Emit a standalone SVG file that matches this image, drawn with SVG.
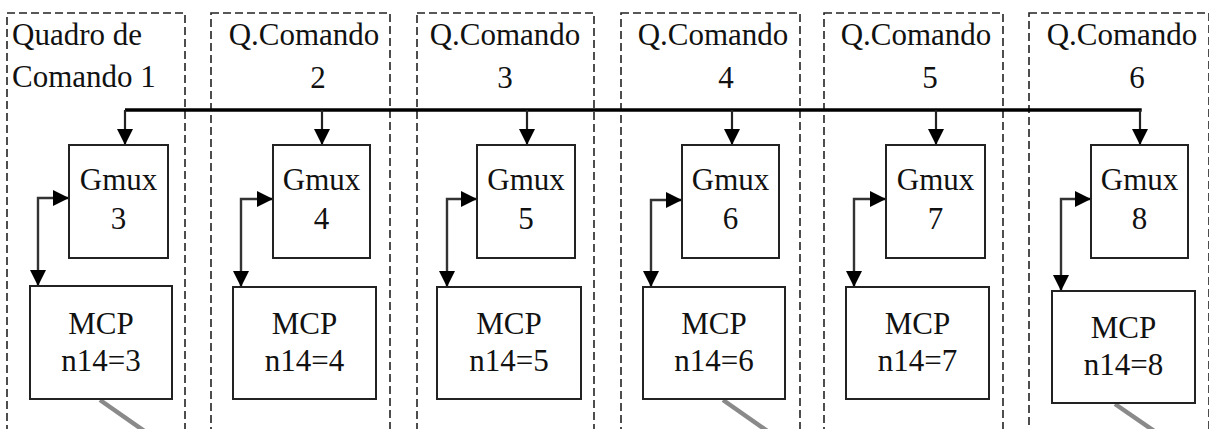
<svg xmlns="http://www.w3.org/2000/svg" width="1209" height="429" viewBox="0 0 1209 429" font-family="Liberation Serif, Tinos, DejaVu Serif, Times New Roman, serif">
<style>
.panel{fill:none;stroke:#222;stroke-width:1.6;stroke-dasharray:8,4}
.box{fill:#fff;stroke:#222;stroke-width:2}
.t{font-size:31px;fill:#111}
.c{text-anchor:middle}
.bus{fill:none;stroke:#000;stroke-width:3.4}
.down{fill:none;stroke:#222;stroke-width:2.2;marker-end:url(#ah)}
.loop{fill:none;stroke:#333;stroke-width:2.4;marker-start:url(#ahs);marker-end:url(#ah)}
.gray{stroke:#8a8a8a;stroke-width:4.5;fill:none}
</style>
<defs>
<marker id="ah" markerUnits="userSpaceOnUse" markerWidth="16" markerHeight="16" refX="16" refY="8" orient="auto"><path d="M0,0 L16,8 L0,16 z" fill="#000"/></marker>
<marker id="ahs" markerUnits="userSpaceOnUse" markerWidth="16" markerHeight="16" refX="0" refY="8" orient="auto"><path d="M16,0 L0,8 L16,16 z" fill="#000"/></marker>
</defs>
<rect width="1209" height="429" fill="#fff"/>
<g id="panels">
<rect class="panel" x="7" y="13" width="178" height="440"/>
<rect class="panel" x="211" y="13" width="179" height="440"/>
<rect class="panel" x="417" y="13" width="177" height="440"/>
<rect class="panel" x="621" y="13" width="179" height="440"/>
<rect class="panel" x="824" y="13" width="179" height="440"/>
<rect class="panel" x="1029" y="13" width="180" height="440"/>
<text class="t" x="12" y="45">Quadro de</text>
<text class="t" x="12" y="87">Comando 1</text>
<text class="t c" x="304" y="45">Q.Comando</text><text class="t c" x="318" y="88">2</text>
<text class="t c" x="505" y="45">Q.Comando</text><text class="t c" x="505" y="88">3</text>
<text class="t c" x="713" y="45">Q.Comando</text><text class="t c" x="726" y="88">4</text>
<text class="t c" x="916" y="45">Q.Comando</text><text class="t c" x="930" y="88">5</text>
<text class="t c" x="1122" y="45">Q.Comando</text><text class="t c" x="1137" y="88">6</text>
</g>
<g id="connectors">
<path class="bus" d="M125,110 H1141.7"/>
<path class="down" d="M125,110 V145"/>
<path class="down" d="M322,110 V145"/>
<path class="down" d="M527,110 V145"/>
<path class="down" d="M732,110 V145"/>
<path class="down" d="M936,110 V145"/>
<path class="down" d="M1140,110 V145"/>
<path class="loop" d="M69,198 H38 V286"/>
<path class="loop" d="M273,199 H241 V287"/>
<path class="loop" d="M477,199 H447 V287"/>
<path class="loop" d="M682,200 H651 V287"/>
<path class="loop" d="M886,199 H854 V287"/>
<path class="loop" d="M1091,199 H1061 V291"/>
<path class="gray" d="M100,400 L150,435"/>
<path class="gray" d="M723,400 L773,435"/>
<path class="gray" d="M1115,404 L1160,435"/>
</g>
<g id="gmux3"><rect class="box" x="69" y="145" width="99" height="113"/><text class="t c" x="118.5" y="190">Gmux</text><text class="t c" x="118.5" y="229">3</text></g>
<g id="gmux4"><rect class="box" x="273" y="145" width="97" height="113"/><text class="t c" x="321.5" y="190">Gmux</text><text class="t c" x="321.5" y="229">4</text></g>
<g id="gmux5"><rect class="box" x="477" y="145" width="98" height="113"/><text class="t c" x="526" y="190">Gmux</text><text class="t c" x="526" y="229">5</text></g>
<g id="gmux6"><rect class="box" x="682" y="145" width="97" height="113"/><text class="t c" x="730.5" y="190">Gmux</text><text class="t c" x="730.5" y="229">6</text></g>
<g id="gmux7"><rect class="box" x="886" y="145" width="99" height="113"/><text class="t c" x="935.5" y="190">Gmux</text><text class="t c" x="935.5" y="229">7</text></g>
<g id="gmux8"><rect class="box" x="1091" y="145" width="97" height="113"/><text class="t c" x="1139.5" y="190">Gmux</text><text class="t c" x="1139.5" y="229">8</text></g>
<g id="mcp3"><rect class="box" x="30" y="286" width="142" height="113"/><text class="t c" x="101" y="334">MCP</text><text class="t c" x="101" y="371">n14=3</text></g>
<g id="mcp4"><rect class="box" x="233" y="287" width="143" height="112"/><text class="t c" x="304.5" y="334">MCP</text><text class="t c" x="304.5" y="371">n14=4</text></g>
<g id="mcp5"><rect class="box" x="437" y="287" width="144" height="112"/><text class="t c" x="509" y="334">MCP</text><text class="t c" x="509" y="371">n14=5</text></g>
<g id="mcp6"><rect class="box" x="643" y="287" width="142" height="112"/><text class="t c" x="714" y="334">MCP</text><text class="t c" x="714" y="371">n14=6</text></g>
<g id="mcp7"><rect class="box" x="846" y="287" width="143" height="112"/><text class="t c" x="917.5" y="334">MCP</text><text class="t c" x="917.5" y="371">n14=7</text></g>
<g id="mcp8"><rect class="box" x="1052" y="291" width="143" height="112"/><text class="t c" x="1123.5" y="338">MCP</text><text class="t c" x="1123.5" y="375">n14=8</text></g>
</svg>
